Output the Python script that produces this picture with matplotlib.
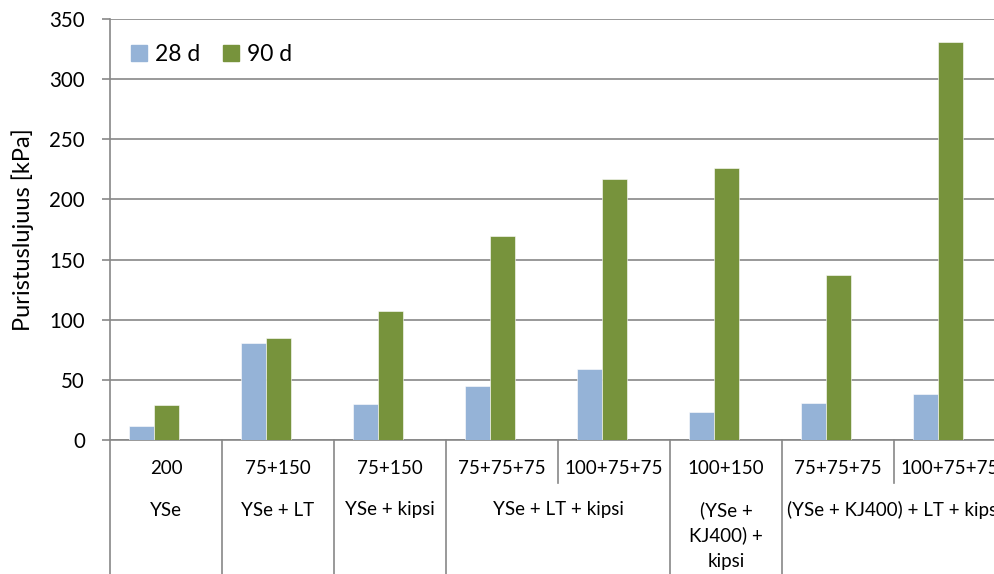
import matplotlib
matplotlib.use("Agg")
import matplotlib.pyplot as plt
from matplotlib.lines import Line2D
from matplotlib.patches import Patch

plt.rcParams['font.family'] = ['Lato', 'DejaVu Sans']

# ---- data ----
sub_labels = ["200", "75+150", "75+150", "75+75+75", "100+75+75",
              "100+150", "75+75+75", "100+75+75"]
group_labels = ["YSe", "YSe + LT", "YSe + kipsi", "YSe + LT + kipsi",
                "(YSe +\nKJ400) +\nkipsi", "(YSe + KJ400) + LT + kipsi"]
group_sizes = [1, 1, 1, 2, 1, 2]
series_names = ["28 d", "90 d"]
vals_28 = [12, 81, 30, 45, 59, 23, 31, 38]
vals_90 = [29, 85, 107, 170, 217, 226, 137, 331]
yticks = [0, 50, 100, 150, 200, 250, 300, 350]

c28 = "#95B3D7"
c90 = "#77933C"
gray = "#878787"

W, H = 995, 574
fig = plt.figure(figsize=(W / 100, H / 100), dpi=100)
x0, x1 = 110, 1006
y_top, y_bot = 19, 440
ax = fig.add_axes([x0 / W, (H - y_bot) / H, (x1 - x0) / W, (y_bot - y_top) / H])

n = len(sub_labels)
bw = 0.222
pos = list(range(n))
ax.bar([p + 0.172 for p in pos], vals_28, width=bw, align='edge', color=c28,
       edgecolor='white', linewidth=0.4, zorder=3, label=series_names[0])
ax.bar([p + 0.172 + bw for p in pos], vals_90, width=bw, align='edge', color=c90,
       edgecolor='white', linewidth=0.4, zorder=3, label=series_names[1])

ax.set_xlim(0, n)
ax.set_ylim(0, 350)
ax.set_yticks(yticks)
ax.set_yticklabels([str(v) for v in yticks], fontsize=14.8)
ax.yaxis.grid(True, color=gray, linewidth=1.2, zorder=0)
ax.set_axisbelow(True)
ax.tick_params(axis='y', length=6, width=1.2, color=gray, pad=12)
ax.set_xticks([])
for s in ['top', 'right']:
    ax.spines[s].set_visible(False)
for s in ['left', 'bottom']:
    ax.spines[s].set_color(gray)
    ax.spines[s].set_linewidth(1.2)

fig.text(23 / W, 1 - 229.5 / H, "Puristuslujuus [kPa]", rotation=90,
         ha='center', va='center', fontsize=17)

# multi-level category axis
def fy(py):
    return 1 - py / H

def fx(dx):
    return (x0 + dx * (x1 - x0) / n) / W

for i, lab in enumerate(sub_labels):
    fig.text(fx(i + 0.5), fy(468), lab, ha='center', va='center', fontsize=13.5)

start = 0
boundaries_long = [0]
for lab, sz in zip(group_labels, group_sizes):
    cx = start + sz / 2
    for k, line in enumerate(lab.split("\n")):
        fig.text(fx(cx), fy(510 + k * 25.5), line, ha='center', va='center', fontsize=13.5)
    start += sz
    boundaries_long.append(start)

for i in range(n + 1):
    if i in boundaries_long:
        yb = 574
    else:
        yb = 483
    fig.add_artist(Line2D([fx(i), fx(i)], [fy(440), fy(yb)], color=gray,
                          linewidth=1.2, transform=fig.transFigure))

handles = [Patch(color=c28), Patch(color=c90)]
leg = ax.legend(handles, series_names, loc='upper left', ncol=2, frameon=False,
                fontsize=16.5, handlelength=0.7, handleheight=0.7,
                handletextpad=0.35, columnspacing=1.0, borderaxespad=0,
                bbox_to_anchor=(12 / (x1 - x0), 1 - 16 / (y_bot - y_top)))

fig.savefig("out.png", dpi=100)
